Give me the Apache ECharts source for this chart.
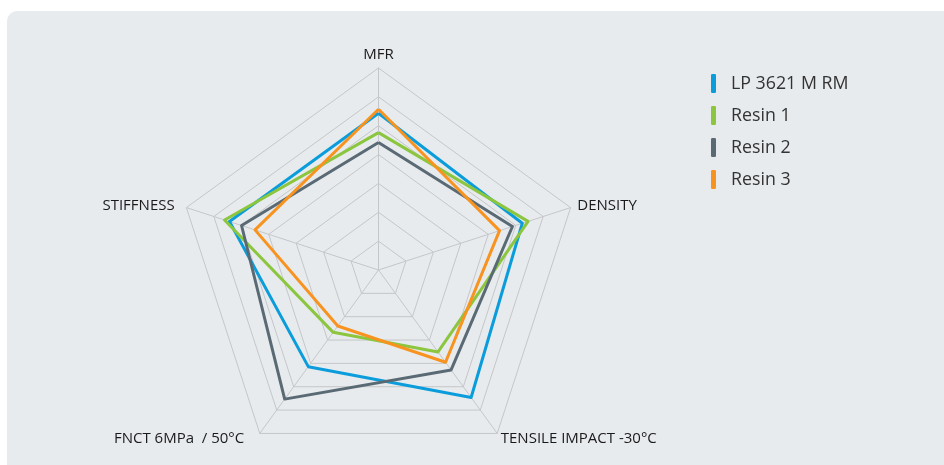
<!DOCTYPE html>
<html>
<head>
<meta charset="utf-8">
<script src="https://cdn.jsdelivr.net/npm/echarts@6/dist/echarts.min.js"></script>
<style>
html,body{margin:0;padding:0;background:#ffffff;width:944px;height:465px;overflow:hidden;}
#panel{position:absolute;left:7px;top:11px;width:960px;height:480px;background:#e8ebee;border-radius:10px;}
#chart{position:absolute;left:0;top:0;width:944px;height:465px;}
</style>
</head>
<body>
<div id="panel"></div>
<div id="chart"></div>
<script>
// Indicators in ECharts order (counter-clockwise from top)
var indicatorNames = ['MFR', 'STIFFNESS', 'FNCT 6MPa  / 50°C', 'TENSILE IMPACT -30°C', 'DENSITY'];
var maxValue = 7;
var seriesNames = ['LP 3621 M RM', 'Resin 1', 'Resin 2', 'Resin 3'];
var lp3621 = [5.43, 5.43, 4.14, 5.46, 5.24];
var resin1 = [4.76, 5.61, 2.67, 3.51, 5.45];
var resin2 = [4.42, 4.99, 5.53, 4.28, 4.88];
var resin3 = [5.57, 4.50, 2.40, 3.95, 4.41];
var colors = ['#0b9ddb', '#8cc63f', '#5a6a75', '#f7931e'];

var nameStyle = { fontFamily: 'Open Sans', fontSize: 15, color: '#1a1a1a' };
var richStyles = {
  c: Object.assign({}, nameStyle),
  s: Object.assign({ padding: [0, 6, 0, 0] }, nameStyle),
  f: Object.assign({ padding: [0, 12, 0, 0] }, nameStyle),
  t: Object.assign({ padding: [0, 0, 0, 0] }, nameStyle),
  d: Object.assign({ padding: [0, 0, 0, 1] }, nameStyle)
};
var richKeys = ['c', 's', 'f', 't', 'd'];

var chart = echarts.init(document.getElementById('chart'));
var values = [lp3621, resin1, resin2, resin3];
chart.setOption({
  animation: false,
  backgroundColor: 'transparent',
  color: colors,
  legend: {
    orient: 'vertical',
    left: 706,
    top: 69,
    icon: 'roundRect',
    itemWidth: 5,
    itemHeight: 19,
    itemGap: 13,
    textStyle: { fontFamily: 'Open Sans', fontSize: 17.8, color: '#333', padding: [0,0,0,10] },
    data: seriesNames
  },
  radar: {
    center: [378.5, 270],
    radius: 202,
    startAngle: 90,
    splitNumber: 7,
    shape: 'polygon',
    indicator: indicatorNames.map(function(n){ return { name: n, max: maxValue, min: 0 }; }),
    axisName: {
      color: '#1a1a1a', fontFamily: 'Open Sans', fontSize: 15,
      formatter: function (name) {
        var i = indicatorNames.indexOf(name);
        return '{' + richKeys[i] + '|' + name + '}';
      },
      rich: richStyles
    },
    nameGap: 6,
    axisLine: { lineStyle: { color: '#c4c6c8', width: 1 } },
    splitLine: { lineStyle: { color: '#c4c6c8', width: 1 } },
    splitArea: { show: false }
  },
  series: [{
    type: 'radar',
    symbol: 'none',
    lineStyle: { width: 3 },
    data: seriesNames.map(function(n, i){ return { name: n, value: values[i], lineStyle: { color: colors[i], width: 3 } }; })
  }]
});
</script>
</body>
</html>
